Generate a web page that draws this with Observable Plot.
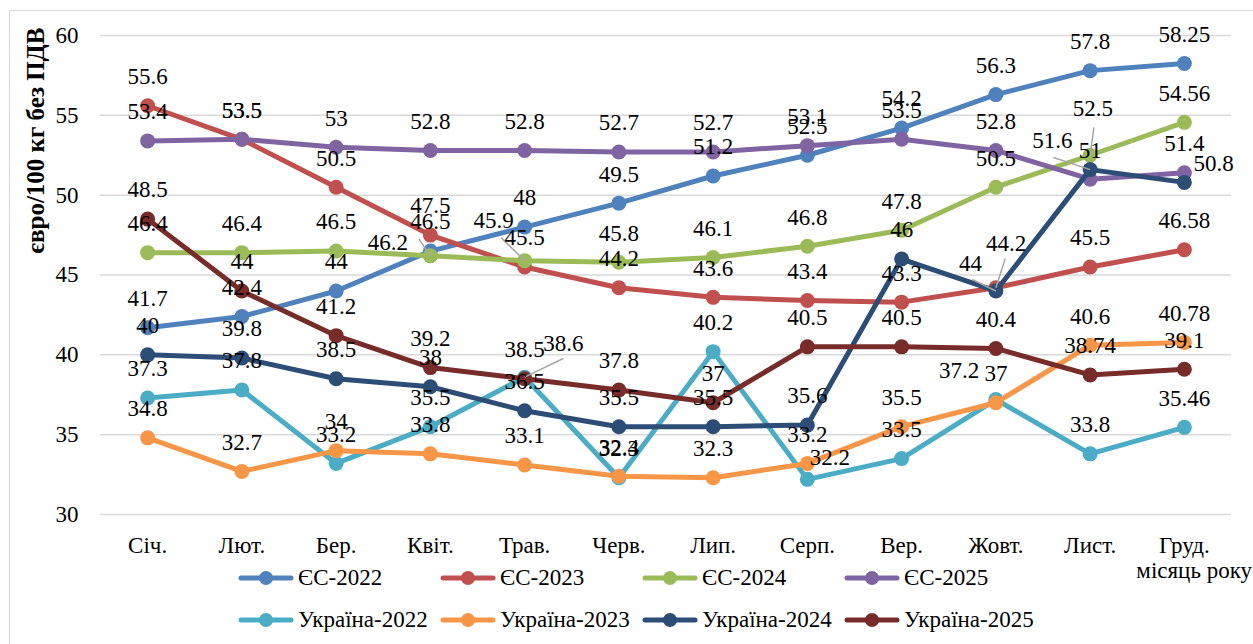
<!DOCTYPE html>
<html>
<head>
<meta charset="utf-8">
<script src="https://cdn.jsdelivr.net/npm/d3@7"></script>
<script src="https://cdn.jsdelivr.net/npm/@observablehq/plot@0.6"></script>
<style>
  html, body { margin: 0; padding: 0; background: #fff; overflow: hidden; }
  #wrap { position: relative; width: 1253px; height: 644px; font-family: "Liberation Serif", "Times New Roman", serif; color: #000; }
  #frame { position: absolute; left: 9px; top: 10px; width: 1300px; height: 700px; border: 1.5px solid #d9d9d9; pointer-events: none; }
  #legend { position: relative; width: 1253px; height: 84px; }
  .item { position: absolute; display: flex; align-items: center; font-size: 23px; white-space: nowrap; transform: translateY(-50%); }
  .item svg { margin-right: 4px; }
  #xlabel { position: absolute; right: 1px; top: 558px; font-size: 23px; }
</style>
</head>
<body>
<div id="wrap">
  <div id="frame"></div>
  <div id="chart"></div>
  <div id="legend"></div>
  <div id="xlabel">місяць року</div>
</div>
<script>
// ---- data ----
const months = ["Січ.", "Лют.", "Бер.", "Квіт.", "Трав.", "Черв.", "Лип.", "Серп.", "Вер.", "Жовт.", "Лист.", "Груд."];
const seriesNames = ["ЄС-2022", "ЄС-2023", "ЄС-2024", "ЄС-2025", "Україна-2022", "Україна-2023", "Україна-2024", "Україна-2025"];
const eu2022 = [41.7, 42.4, 44, 46.5, 48, 49.5, 51.2, 52.5, 54.2, 56.3, 57.8, 58.25];
const eu2023 = [55.6, 53.5, 50.5, 47.5, 45.5, 44.2, 43.6, 43.4, 43.3, 44.2, 45.5, 46.58];
const eu2024 = [46.4, 46.4, 46.5, 46.2, 45.9, 45.8, 46.1, 46.8, 47.8, 50.5, 52.5, 54.56];
const eu2025 = [53.4, 53.5, 53, 52.8, 52.8, 52.7, 52.7, 53.1, 53.5, 52.8, 51, 51.4];
const ua2022 = [37.3, 37.8, 33.2, 35.5, 38.6, 32.3, 40.2, 32.2, 33.5, 37.2, 33.8, 35.46];
const ua2023 = [34.8, 32.7, 34, 33.8, 33.1, 32.4, 32.3, 33.2, 35.5, 37, 40.6, 40.78];
const ua2024 = [40, 39.8, 38.5, 38, 36.5, 35.5, 35.5, 35.6, 46, 44, 51.6, 50.8];
const ua2025 = [48.5, 44, 41.2, 39.2, 38.5, 37.8, 37, 40.5, 40.5, 40.4, 38.74, 39.1];
const yTicks = [30, 35, 40, 45, 50, 55, 60];

// ---- styling ----
const seriesValues = [eu2022, eu2023, eu2024, eu2025, ua2022, ua2023, ua2024, ua2025];
const colors = ["#4F81BD", "#C0504D", "#9BBB59", "#8064A2", "#4BACC6", "#F79646", "#2C4D75", "#772C2A"];
// manual label displacements (months / value units) and leader-line ends, like the moved labels in the original
const labelNudges = [
  {s: "ЄС-2024", m: 3, dx: -0.45, dy: -0.98, lx: -0.12, ly: 1.05},
  {s: "ЄС-2024", m: 4, dx: -0.33, dy: 0.69, lx: -0.25, ly: 1.44},
  {s: "Україна-2022", m: 4, dx: 0.41, dy: 0.3, lx: 0.41, ly: 1.17},
  {s: "Україна-2022", m: 7, dx: 0.24, dy: -0.44},
  {s: "Україна-2024", m: 9, dx: -0.27, dy: -0.1, lx: -0.25, ly: 0.72},
  {s: "ЄС-2023", m: 9, dx: 0.11, dy: 0.96, lx: 0.1, ly: 1.83},
  {s: "Україна-2022", m: 9, dx: -0.39, dy: 0},
  {s: "ЄС-2024", m: 10, dx: 0.03, dy: 1.1, lx: 0.04, ly: 1.74},
  {s: "Україна-2024", m: 10, dx: -0.4, dy: 0, lx: -0.39, ly: 0.76},
  {s: "Україна-2024", m: 11, dx: 0.31, dy: -0.63}
];

const rows = [];
seriesNames.forEach((s, k) => seriesValues[k].forEach((v, i) => rows.push({s, i, v, month: months[i]})));

const labels = rows.map(d => {
  const n = labelNudges.find(e => e.s === d.s && e.m === d.i);
  return {...d, tx: d.i + (n ? n.dx : 0), ty: d.v + (n ? n.dy : 0), label: String(d.v)};
});
const leaders = rows.map(d => {
  const n = labelNudges.find(e => e.s === d.s && e.m === d.i && e.lx !== undefined);
  return n ? {...d, x2: d.i + n.lx, y2: d.v + n.ly} : null;
}).filter(Boolean);

const marks = [Plot.ruleY(yTicks, {stroke: "#d9d9d9", strokeWidth: 1.5})];
seriesNames.forEach((s, k) => {
  const data = rows.filter(d => d.s === s);
  marks.push(Plot.line(data, {x: "i", y: "v", stroke: colors[k], strokeWidth: 5, strokeLinejoin: "round", strokeLinecap: "round"}));
  marks.push(Plot.dot(data, {x: "i", y: "v", r: 7.5, fill: colors[k], stroke: colors[k], strokeWidth: 0}));
});
marks.push(Plot.link(leaders, {x1: "i", y1: "v", x2: "x2", y2: "y2", stroke: "#a6a6a6", strokeWidth: 1.5}));
marks.push(Plot.text(labels, {x: "tx", y: "ty", text: "label", dy: -29, fill: "#000", fontSize: 23}));
marks.push(Plot.text(["євро/100 кг без ПДВ"], {frameAnchor: "top-left", rotate: -90, textAnchor: "end", lineAnchor: "middle", dx: -65, dy: -8, fontWeight: "bold", fontSize: 25, fill: "#000"}));

const chart = Plot.plot({
  width: 1253,
  height: 560,
  marginLeft: 100,
  marginRight: 22,
  marginTop: 35,
  marginBottom: 46,
  style: {fontFamily: "'Liberation Serif', 'Times New Roman', serif", fontSize: "23px", color: "#000", background: "transparent", overflow: "visible"},
  x: {type: "linear", domain: [-0.5, 11.5], ticks: d3.range(months.length), tickFormat: i => months[i], tickSize: 0, tickPadding: 22, label: null},
  y: {domain: [30, 60], ticks: yTicks, tickSize: 0, tickPadding: 22, label: null},
  marks
});
document.getElementById("chart").appendChild(chart);

// ---- legend ----
const legend = document.getElementById("legend");
seriesNames.forEach((s, k) => {
  const col = k % 4, row = Math.floor(k / 4);
  const el = document.createElement("div");
  el.className = "item";
  el.style.left = (238 + col * 202) + "px";
  el.style.top = (18 + row * 42) + "px";
  el.innerHTML = `<svg width="56" height="18"><line x1="3" y1="9" x2="53" y2="9" stroke="${colors[k]}" stroke-width="5" stroke-linecap="round"/><circle cx="28" cy="9" r="7" fill="${colors[k]}"/></svg><span>${s}</span>`;
  legend.appendChild(el);
});
</script>
</body>
</html>
